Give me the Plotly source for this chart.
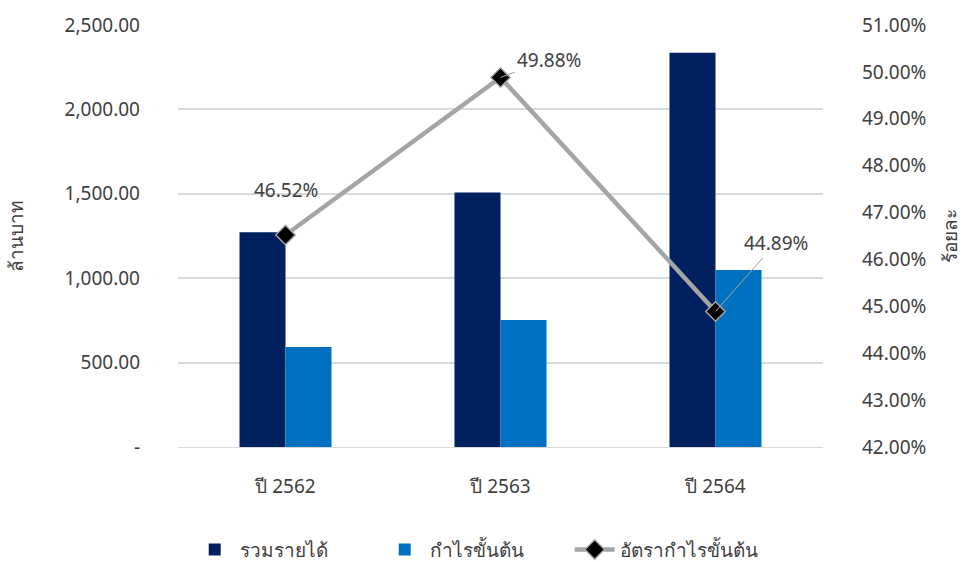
import plotly.graph_objects as go

categories = ["ปี 2562", "ปี 2563", "ปี 2564"]
revenue = [1272, 1508, 2335]
gross_profit = [592, 752, 1048]
gp_margin = [46.52, 49.88, 44.89]

left_ticks = [0, 500, 1000, 1500, 2000, 2500]
left_ticktext = ["-" if v == 0 else f"{v:,.2f}" for v in left_ticks]
right_ticks = list(range(42, 52))
right_ticktext = [f"{v:.2f}%" for v in right_ticks]

FONT = "Noto Sans, Tahoma, sans-serif"
TXT = "#404040"
FS = 19

fig = go.Figure()
fig.add_trace(go.Bar(x=categories, y=revenue, name="รวมรายได้",
                     marker=dict(color="#002060", line=dict(width=0))))
fig.add_trace(go.Bar(x=categories, y=gross_profit, name="กำไรขั้นต้น",
                     marker=dict(color="#0070C0", line=dict(width=0))))
fig.add_trace(go.Scatter(x=categories, y=gp_margin, name="อัตรากำไรขั้นต้น", yaxis="y2",
                         mode="lines+markers",
                         line=dict(color="#A5A5A5", width=4.5),
                         marker=dict(symbol="diamond", size=15, color="black",
                                     line=dict(color="#A5A5A5", width=1.5))))

offsets = [(0, -45, False), (48, -18, True), (60, -68, True)]
for c, v, (ax, ay, arr) in zip(categories, gp_margin, offsets):
    if arr:
        fig.add_annotation(x=c, y=v, yref="y2", text=f"{v:.2f}%", showarrow=True,
                           ax=ax, ay=ay, arrowhead=0, arrowwidth=1, arrowcolor="#A5A5A5",
                           font=dict(size=FS, color=TXT, family=FONT))
    else:
        fig.add_annotation(x=c, y=v, yref="y2", text=f"{v:.2f}%", showarrow=False,
                           yshift=-ay, font=dict(size=FS, color=TXT, family=FONT))

fig.update_layout(
    width=963, height=562,
    margin=dict(l=178, r=140, t=25, b=115),
    paper_bgcolor="white", plot_bgcolor="white",
    font=dict(family=FONT, size=FS, color=TXT),
    barmode="group", bargap=0.572, bargroupgap=0,
    showlegend=True,
    legend=dict(orientation="h", x=0.46, xanchor="center", xref="paper",
                yref="container", y=0.022, yanchor="middle",
                font=dict(size=FS, color=TXT), itemwidth=40,
                entrywidth=135, entrywidthmode="pixels"),
    xaxis=dict(showgrid=False, showline=True, linecolor="#D9D9D9", linewidth=1,
               ticks="", ticklabelstandoff=22, tickfont=dict(size=FS, color=TXT),
               automargin=False),
    yaxis=dict(range=[0, 2500], tickvals=left_ticks, ticktext=left_ticktext,
               showgrid=True, gridcolor="#D9D9D9", gridwidth=1.5, zeroline=False,
               ticklabelstandoff=37, automargin=False,
               title=dict(text="ล้านบาท", font=dict(size=FS, color=TXT), standoff=35)),
    yaxis2=dict(range=[42, 51], tickvals=right_ticks, ticktext=right_ticktext,
                overlaying="y", side="right", showgrid=False, zeroline=False,
                ticklabelstandoff=38, automargin=False,
                title=dict(text="ร้อยละ", font=dict(size=FS, color=TXT), standoff=25)),
)

fig.write_html("out.html")
